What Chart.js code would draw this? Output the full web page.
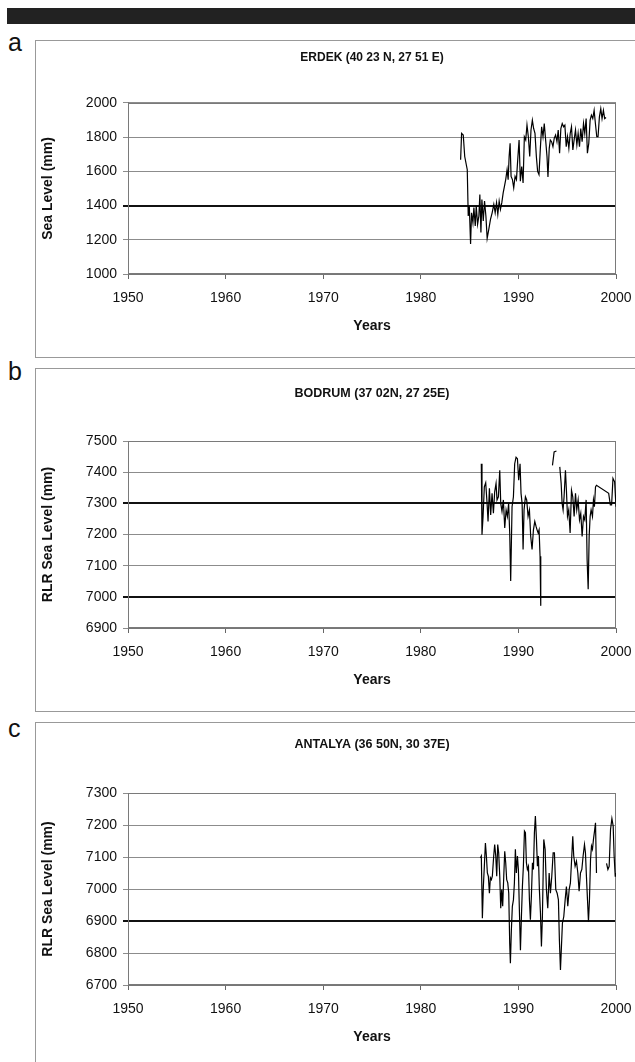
<!DOCTYPE html>
<html><head><meta charset="utf-8">
<script src="https://cdn.jsdelivr.net/npm/chart.js@4.4.1/dist/chart.umd.min.js"></script>
<style>
html,body{margin:0;padding:0;background:#fff;overflow:hidden;width:635px;height:1062px;}
#bar{position:absolute;left:7px;top:8px;width:628px;height:16px;background:#222;}
.box{position:absolute;left:35px;width:620px;border:1px solid #999;box-sizing:border-box;}
.lbl{position:absolute;left:8px;font:25px "Liberation Sans",Arial,sans-serif;color:#111;line-height:1;}
canvas{position:absolute;left:0;top:0;}
</style></head>
<body>
<div id="bar"></div>
<div class="lbl" style="top:30px">a</div>
<div class="lbl" style="top:359px">b</div>
<div class="lbl" style="top:716px">c</div>
<div class="box" style="top:40px;height:318px"><canvas id="ca" width="618" height="316"></canvas></div>
<div class="box" style="top:368px;height:344px"><canvas id="cb" width="618" height="342"></canvas></div>
<div class="box" style="top:722px;height:360px"><canvas id="cc" width="618" height="358"></canvas></div>
<script>
const yearTicks = [1950,1960,1970,1980,1990,2000];
const erdekTicks = [1000,1200,1400,1600,1800,2000];
const bodrumTicks = [6900,7000,7100,7200,7300,7400,7500];
const antalyaTicks = [6700,6800,6900,7000,7100,7200,7300];

const erdekYears = [1984.08,1984.18,1984.35,1984.50,1984.76,1984.86,1984.97,1985.10,1985.20,1985.34,
1985.44,1985.58,1985.68,1985.82,1985.95,1986.05,1986.16,1986.26,1986.40,1986.53,
1986.67,1986.80,1986.97,1987.14,1987.31,1987.48,1987.62,1987.76,1987.89,1988.03,
1988.16,1988.30,1988.44,1988.57,1988.70,1988.84,1988.95,1989.05,1989.15,1989.25,
1989.39,1989.52,1989.66,1989.80,1989.93,1990.07,1990.20,1990.34,1990.48,1990.61,
1990.75,1990.88,1991.02,1991.16,1991.29,1991.43,1991.56,1991.70,1991.84,1991.97,
1992.11,1992.24,1992.38,1992.52,1992.65,1992.79,1992.93,1993.03,1993.16,1993.27,
1993.40,1993.54,1993.67,1993.81,1993.95,1994.08,1994.22,1994.35,1994.49,1994.63,
1994.76,1994.90,1995.03,1995.17,1995.31,1995.44,1995.58,1995.71,1995.85,1995.99,
1996.12,1996.26,1996.39,1996.53,1996.67,1996.80,1996.94,1997.07,1997.21,1997.35,
1997.48,1997.62,1997.76,1997.89,1998.03,1998.16,1998.30,1998.44,1998.57,1998.71,
1998.84,1998.98];
const erdekLevels = [1668,1822,1813,1687,1610,1339,1397,1175,1358,1300,
1388,1281,1397,1291,1339,1465,1243,1436,1310,1426,
1339,1208,1262,1320,1358,1407,1358,1417,1349,1426,
1378,1417,1474,1513,1552,1610,1552,1687,1764,1571,
1552,1504,1571,1552,1668,1784,1542,1629,1532,1803,
1784,1871,1803,1687,1842,1900,1851,1822,1687,1600,
1581,1726,1861,1803,1880,1784,1687,1567,1735,1784,
1774,1745,1793,1813,1774,1842,1706,1851,1880,1861,
1871,1745,1803,1735,1822,1861,1726,1784,1842,1755,
1822,1745,1851,1774,1880,1822,1909,1706,1764,1900,
1929,1909,1957,1880,1803,1803,1919,1967,1909,1957,
1909,1915];

const bodrumYears = [1986.20,1986.27,1986.38,1986.51,1986.65,1986.79,1986.89,1987.03,1987.16,1987.30,
1987.44,1987.57,1987.71,1987.81,1987.95,1988.09,1988.19,1988.32,1988.46,1988.60,
1988.74,1988.87,1989.00,1989.11,1989.21,1989.35,1989.49,1989.62,1989.76,1989.90,
1990.03,1990.17,1990.27,1990.38,1990.48,1990.58,1990.72,1990.85,1990.99,1991.13,
1991.26,1991.40,1991.54,1991.68,1991.81,1991.91,1992.02,1992.12,1992.22,1992.29,
1992.90,1993.49,1993.66,1993.90,1994.05,1994.24,1994.38,1994.48,1994.58,1994.68,
1994.82,1994.92,1995.03,1995.16,1995.30,1995.44,1995.57,1995.71,1995.85,1995.98,
1996.12,1996.26,1996.39,1996.53,1996.67,1996.80,1996.94,1997.04,1997.15,1997.25,
1997.35,1997.45,1997.59,1997.69,1997.79,1997.90,1998.00,1999.25,1999.42,1999.55,
1999.69,1999.86,2000.00];
const bodrumLevels = [7427,7199,7258,7353,7366,7300,7242,7348,7263,7332,
7268,7337,7364,7311,7321,7406,7300,7274,7311,7221,
7279,7258,7300,7205,7051,7289,7321,7427,7448,7443,
7374,7427,7332,7300,7152,7279,7321,7311,7258,7279,
7194,7152,7215,7242,7226,7215,7205,7215,7130,6971,
null,7422,7465,7468,null,7417,7364,7300,7279,7321,
7406,7342,7258,7279,7205,7342,7321,7258,7332,7279,
7311,7247,7268,7194,7258,7247,7311,7120,7024,7194,
7258,7279,7258,7311,7289,7353,7358,7332,7295,7295,
7380,7369,7289];

const antalyaYears = [1986.10,1986.20,1986.31,1986.41,1986.51,1986.62,1986.72,1986.82,1986.92,1987.03,
1987.13,1987.23,1987.33,1987.47,1987.57,1987.68,1987.78,1987.88,1987.98,1988.09,
1988.19,1988.29,1988.39,1988.50,1988.60,1988.70,1988.80,1988.91,1989.01,1989.11,
1989.18,1989.28,1989.38,1989.49,1989.59,1989.69,1989.79,1989.90,1990.00,1990.10,
1990.21,1990.31,1990.41,1990.51,1990.62,1990.72,1990.82,1990.92,1991.03,1991.13,
1991.23,1991.33,1991.44,1991.54,1991.64,1991.74,1991.85,1991.95,1992.05,1992.15,
1992.26,1992.36,1992.46,1992.60,1992.74,1992.87,1993.01,1993.15,1993.28,1993.42,
1993.56,1993.69,1993.83,1993.97,1994.10,1994.20,1994.31,1994.41,1994.51,1994.65,
1994.79,1994.92,1995.06,1995.20,1995.33,1995.47,1995.57,1995.67,1995.81,1995.95,
1996.09,1996.22,1996.36,1996.50,1996.63,1996.77,1996.87,1996.97,1997.08,1997.18,
1997.28,1997.39,1997.49,1997.59,1997.69,1997.80,1997.90,1998.00,1998.50,1999.03,
1999.17,1999.30,1999.44,1999.58,1999.71,1999.81,1999.92,1999.99];
const antalyaLevels = [7097,7103,6909,7008,7071,7144,7103,7050,7040,6987,
7035,7029,7040,7103,7139,7103,7040,7139,7113,7040,
6940,6998,6946,7040,7118,7082,7029,7019,6987,6830,
6768,6872,6946,6966,7019,7124,7050,7103,7061,6935,
6809,6914,7008,7071,7181,7176,7082,7061,7071,6966,
6904,6977,7082,7061,7176,7228,7155,7071,7103,6998,
6925,6820,6914,7155,7124,6998,6940,7050,6987,7040,
7113,7113,6998,6987,6966,6841,6747,6820,6893,6914,
6966,7008,6946,6998,7019,7103,7165,7103,7071,7087,
7050,6993,7050,7061,7103,7139,7113,7040,6966,6898,
6966,7092,7134,7124,7155,7181,7207,7050,null,7080,
7061,7071,7186,7220,7197,7103,7040,7050];

const FONT = '"Liberation Sans", Arial, Helvetica, sans-serif';

const frame = {
  id: 'frame',
  beforeDatasetsDraw(chart) {
    const {ctx, chartArea: a} = chart;
    ctx.save();
    ctx.strokeStyle = '#7a7a7a';
    ctx.lineWidth = 1;
    const l = Math.round(a.left) + 0.5, t = Math.round(a.top) + 0.5;
    const r = Math.round(a.right) - 0.5, b = Math.round(a.bottom) - 0.5;
    ctx.strokeRect(l, t, r - l, b - t);
    ctx.restore();
  }
};

function build(id, years, levels, cfg) {
  const pts = years.map((x, i) => ({x: x, y: levels[i]}));
  const isDark = c => c.tick && cfg.dark.includes(c.tick.value);
  return new Chart(document.getElementById(id), {
    type: 'line',
    data: {datasets: [{data: pts, borderColor: '#000', borderWidth: 1.2, pointRadius: 0,
      tension: 0, fill: false, spanGaps: false}]},
    options: {
      responsive: false, animation: false, devicePixelRatio: 1,
      layout: {padding: {left: 0, right: 38, top: 0, bottom: 0}},
      plugins: {
        legend: {display: false}, tooltip: {enabled: false},
        title: {display: true, text: cfg.title, fullSize: false, color: '#111',
          font: {family: FONT, size: cfg.titleSize, weight: 'bold'},
          padding: {top: cfg.titleTop, bottom: cfg.titleBottom}}
      },
      scales: {
        x: {
          type: 'linear', min: 1950, max: 2000,
          afterBuildTicks: s => { s.ticks = yearTicks.map(v => ({value: v})); },
          afterFit: s => { s.height = cfg.xHeight; },
          grid: {drawOnChartArea: false, drawTicks: true, tickLength: 5, color: '#666'},
          border: {color: '#777'},
          ticks: {color: '#111', font: {family: FONT, size: 14}, padding: 11,
            callback: v => String(v), maxRotation: 0, autoSkip: false},
          title: {display: true, text: 'Years', color: '#111',
            font: {family: FONT, size: 14, weight: 'bold'}, padding: {top: 4, bottom: cfg.xTitleBottom}}
        },
        y: {
          min: cfg.ticks[0], max: cfg.ticks[cfg.ticks.length - 1],
          afterBuildTicks: s => { s.ticks = cfg.ticks.map(v => ({value: v})); },
          afterFit: s => { s.width = 92; },
          grid: {color: c => isDark(c) ? '#111' : '#8c8c8c', lineWidth: c => isDark(c) ? 2 : 1,
            tickLength: 5, drawTicks: true},
          border: {color: '#777'},
          ticks: {color: '#111', font: {family: FONT, size: 14}, padding: 6, callback: v => String(v)},
          title: {display: true, text: cfg.yTitle, color: '#111',
            font: {family: FONT, size: 14, weight: 'bold'}, padding: {top: 3.6, bottom: 0}}
        }
      }
    },
    plugins: [frame]
  });
}

build('ca', erdekYears, erdekLevels, {
  title: 'ERDEK (40 23 N, 27 51 E)', titleSize: 12, titleTop: 9.8, titleBottom: 37.8,
  ticks: erdekTicks, dark: [1400], yTitle: 'Sea Level (mm)',
  xHeight: 83, xTitleBottom: 22.6
});
build('cb', bodrumYears, bodrumLevels, {
  title: 'BODRUM (37 02N, 27 25E)', titleSize: 12.5, titleTop: 17.5, titleBottom: 39.5,
  ticks: bodrumTicks, dark: [7000, 7300], yTitle: 'RLR Sea Level (mm)',
  xHeight: 83, xTitleBottom: 22.6
});
build('cc', antalyaYears, antalyaLevels, {
  title: 'ANTALYA (36 50N, 30 37E)', titleSize: 12.5, titleTop: 14.5, titleBottom: 40.5,
  ticks: antalyaTicks, dark: [6900], yTitle: 'RLR Sea Level (mm)',
  xHeight: 96, xTitleBottom: 35.6
});
</script>
</body></html>
